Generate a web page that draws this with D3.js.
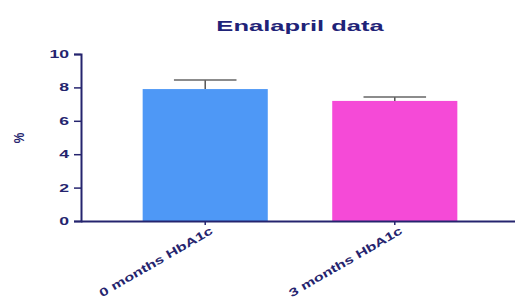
<!DOCTYPE html>
<html>
<head>
<meta charset="utf-8">
<script src="https://cdn.jsdelivr.net/npm/d3@7"></script>
<style>
  body { margin: 0; background: #fff; }
  text { font-family: "Liberation Sans", Arial, sans-serif; font-weight: bold; }
</style>
</head>
<body>
<script>
// values
const categories = ["0 months HbA1c", "3 months HbA1c"];
const means = [7.9, 7.19];
const errTop = [8.44, 7.43];
const yTicks = [0, 2, 4, 6, 8, 10];
const barColors = ["#4e98f6", "#f54ad7"];

const W = 515, H = 304;
const navy = "#25246e";

const svg = d3.select("body").append("svg").attr("width", W).attr("height", H);

const x = d3.scaleBand().domain(categories).range([82, 518]).paddingInner(0.34).paddingOuter(0.32);
const y = d3.scaleLinear().domain([0, 10]).range([221, 54]);

// stretch text along its baseline, the picture looks wide
function stretch(sel, k) {
  sel.each(function () {
    const len = this.getComputedTextLength();
    d3.select(this).attr("textLength", len * k).attr("lengthAdjust", "spacingAndGlyphs");
  });
}

// bars
svg.selectAll("rect.bar").data(categories).enter().append("rect")
  .attr("class", "bar")
  .attr("x", d => x(d))
  .attr("width", x.bandwidth())
  .attr("y", (d, i) => y(means[i]))
  .attr("height", (d, i) => y(0) - y(means[i]))
  .style("fill", (d, i) => barColors[i]);

// error bars
const capW = x.bandwidth() * 0.5;
const eb = svg.selectAll("g.err").data(categories).enter().append("g").attr("class", "err");
eb.append("line")
  .attr("x1", d => x(d) + x.bandwidth() / 2).attr("x2", d => x(d) + x.bandwidth() / 2)
  .attr("y1", (d, i) => y(means[i])).attr("y2", (d, i) => y(errTop[i]))
  .attr("stroke", "#555").attr("stroke-width", 1.5);
eb.append("line")
  .attr("x1", d => x(d) + x.bandwidth() / 2 - capW / 2).attr("x2", d => x(d) + x.bandwidth() / 2 + capW / 2)
  .attr("y1", (d, i) => y(errTop[i])).attr("y2", (d, i) => y(errTop[i]))
  .attr("stroke", "#666").attr("stroke-width", 1.5);

// y axis
const yAxis = svg.append("g").attr("transform", "translate(81,0)")
  .call(d3.axisLeft(y).tickValues(yTicks).tickSize(7).tickPadding(5));
yAxis.select(".domain").attr("stroke", navy).attr("stroke-width", 2);
yAxis.selectAll(".tick line").attr("stroke", navy).attr("stroke-width", 1.5);
yAxis.selectAll(".tick text").attr("fill", navy).style("font-size", "11px").call(stretch, 1.6);

// x axis
const xAxis = svg.append("g").attr("transform", "translate(0,221)")
  .call(d3.axisBottom(x).tickSize(4).tickSizeOuter(0));
xAxis.select(".domain").attr("d", "M81,0.5H515").attr("stroke", navy).attr("stroke-width", 2);
xAxis.selectAll(".tick line").attr("stroke", navy).attr("stroke-width", 1.5);
xAxis.selectAll(".tick text")
  .attr("fill", navy).style("font-size", "11.5px")
  .attr("text-anchor", "end")
  .attr("transform", "translate(5,6) rotate(-30)")
  .attr("x", 0).attr("y", 0).attr("dy", "0.6em")
  .call(stretch, 1.42);

// y label
svg.append("text")
  .attr("transform", "translate(24,138) rotate(-90)")
  .attr("text-anchor", "middle")
  .attr("fill", navy).style("font-size", "14px")
  .text("%")
  .call(stretch, 0.85);

// title
svg.append("text")
  .attr("x", 300).attr("y", 31)
  .attr("text-anchor", "middle")
  .attr("fill", "#1f2378").style("font-size", "15px")
  .text("Enalapril data")
  .call(stretch, 1.7);
</script>
</body>
</html>
